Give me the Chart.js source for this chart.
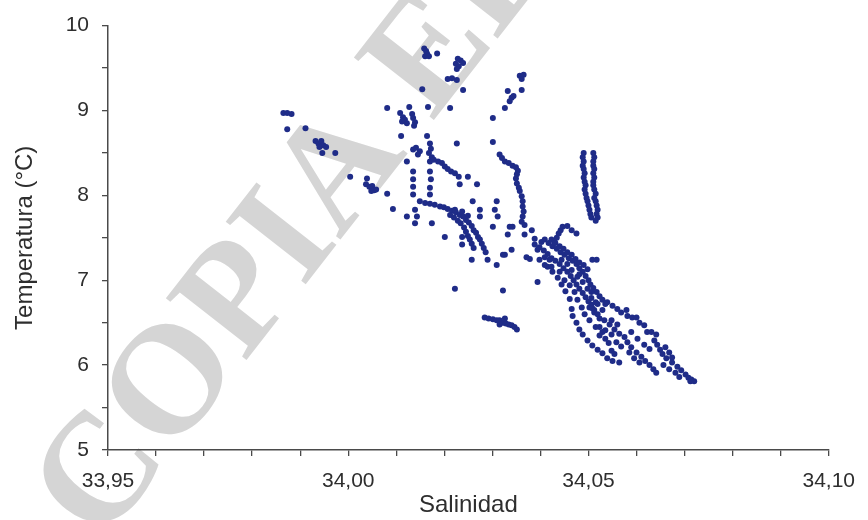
<!DOCTYPE html>
<html>
<head>
<meta charset="utf-8">
<script src="https://cdn.jsdelivr.net/npm/chart.js@4.4.1/dist/chart.umd.min.js"></script>
<style>
  html, body { margin: 0; padding: 0; background: #ffffff; }
  #wrap { width: 868px; height: 520px; }
</style>
</head>
<body>
<div id="wrap"><canvas id="ts" width="868" height="520"></canvas></div>
<script>
// Diagrama T-S: salinidad vs temperatura, puntos [salinidad, temperatura]
const xTitle = "Salinidad";
const yTitle = "Temperatura (°C)";
const watermark = "COPIA ELECTRÓNICA";

const grupoNoroeste = [
  [33.9865, 8.97], [33.9873, 8.97], [33.9882, 8.96], [33.9873, 8.78], [33.9911, 8.79],
  [33.9932, 8.64], [33.9938, 8.61], [33.9944, 8.64], [33.9948, 8.59], [33.9954, 8.57], [33.9940, 8.57],
  [33.9946, 8.50], [33.9973, 8.50], [34.0004, 8.22], [34.0039, 8.20],
  [34.0037, 8.13], [34.0044, 8.10], [34.0050, 8.11], [34.0054, 8.06], [34.0048, 8.05], [34.0058, 8.07],
  [34.0081, 8.02], [34.0093, 7.84]
];

const grupoSuperior = [
  [34.0158, 9.73], [34.0162, 9.70], [34.0164, 9.67], [34.0160, 9.64], [34.0168, 9.64], [34.0185, 9.67],
  [34.0228, 9.61], [34.0234, 9.59], [34.0239, 9.56], [34.0224, 9.55], [34.0230, 9.52], [34.0226, 9.49],
  [34.0207, 9.37], [34.0216, 9.38], [34.0226, 9.36], [34.0154, 9.25], [34.0239, 9.24],
  [34.0081, 9.03], [34.0127, 9.04], [34.0166, 9.04], [34.0212, 9.03],
  [34.0108, 8.97], [34.0114, 8.92], [34.0118, 8.89], [34.0122, 8.85], [34.0112, 8.87],
  [34.0133, 8.96], [34.0135, 8.91], [34.0139, 8.86], [34.0137, 8.82],
  [34.0110, 8.70], [34.0164, 8.70], [34.0226, 8.61],
  [34.0135, 8.54], [34.0141, 8.56], [34.0149, 8.52], [34.0145, 8.48],
  [34.0170, 8.61], [34.0172, 8.55], [34.0168, 8.50], [34.0174, 8.45], [34.0170, 8.40],
  [34.0122, 8.40],
  [34.0178, 8.42], [34.0187, 8.40], [34.0195, 8.38], [34.0201, 8.34], [34.0207, 8.31],
  [34.0214, 8.28], [34.0222, 8.26], [34.0230, 8.22],
  [34.0249, 8.22], [34.0268, 8.13], [34.0232, 8.13],
  [34.0135, 8.28], [34.0135, 8.19], [34.0135, 8.10], [34.0135, 8.01],
  [34.0170, 8.28], [34.0172, 8.19], [34.0170, 8.09], [34.0170, 8.01]
];

const grupoArco = [
  [34.0122, 7.75], [34.0139, 7.83], [34.0143, 7.75], [34.0139, 7.67], [34.0174, 7.67], [34.0201, 7.51],
  [34.0149, 7.93], [34.0160, 7.91], [34.0170, 7.90], [34.0180, 7.89], [34.0191, 7.87], [34.0199, 7.86],
  [34.0207, 7.84], [34.0216, 7.82], [34.0224, 7.80], [34.0232, 7.77], [34.0239, 7.75], [34.0245, 7.71],
  [34.0251, 7.68], [34.0257, 7.64], [34.0261, 7.59], [34.0266, 7.56], [34.0270, 7.51], [34.0274, 7.48],
  [34.0278, 7.43], [34.0282, 7.38], [34.0286, 7.33],
  [34.0212, 7.77], [34.0220, 7.74], [34.0228, 7.70], [34.0234, 7.67], [34.0241, 7.62], [34.0245, 7.57],
  [34.0249, 7.52], [34.0253, 7.48], [34.0257, 7.43], [34.0261, 7.38],
  [34.0222, 7.83], [34.0237, 7.81], [34.0249, 7.76],
  [34.0259, 7.93], [34.0274, 7.83], [34.0274, 7.75], [34.0309, 7.93], [34.0305, 7.83], [34.0311, 7.75],
  [34.0301, 7.63], [34.0332, 7.54], [34.0336, 7.63], [34.0326, 7.30], [34.0340, 7.36], [34.0309, 7.18],
  [34.0290, 7.24], [34.0257, 7.24], [34.0237, 7.51], [34.0237, 7.42]
];

const grupoCurva = [
  [34.0301, 8.91], [34.0301, 8.63], [34.0326, 9.03], [34.0332, 9.23], [34.0340, 9.15], [34.0336, 9.11],
  [34.0344, 9.17], [34.0357, 9.41], [34.0365, 9.42], [34.0361, 9.37], [34.0361, 9.24],
  [34.0315, 8.48], [34.0320, 8.44], [34.0326, 8.40], [34.0334, 8.38], [34.0342, 8.35], [34.0349, 8.33],
  [34.0353, 8.29], [34.0351, 8.25], [34.0349, 8.20], [34.0351, 8.14], [34.0355, 8.09], [34.0357, 8.05],
  [34.0361, 7.99], [34.0363, 7.93], [34.0363, 7.87], [34.0365, 7.81], [34.0363, 7.75], [34.0361, 7.69]
];

const grupoColumna = [
  [34.0490, 8.50], [34.0488, 8.45], [34.0490, 8.40], [34.0488, 8.35], [34.0490, 8.31], [34.0492, 8.26],
  [34.0490, 8.21], [34.0492, 8.16], [34.0494, 8.12], [34.0492, 8.07], [34.0494, 8.02], [34.0496, 7.97],
  [34.0498, 7.93], [34.0500, 7.88], [34.0502, 7.83], [34.0504, 7.78], [34.0506, 7.74],
  [34.0510, 8.50], [34.0512, 8.45], [34.0510, 8.40], [34.0510, 8.35], [34.0512, 8.31], [34.0510, 8.26],
  [34.0512, 8.21], [34.0510, 8.16], [34.0510, 8.12], [34.0512, 8.07], [34.0515, 8.02], [34.0512, 7.97],
  [34.0515, 7.93], [34.0517, 7.88], [34.0519, 7.83], [34.0517, 7.78], [34.0519, 7.74], [34.0515, 7.70]
];

const grupoCentral = [
  [34.0342, 7.63], [34.0367, 7.65], [34.0367, 7.54], [34.0382, 7.59], [34.0388, 7.49], [34.0402, 7.45],
  [34.0394, 7.36], [34.0378, 7.25], [34.0398, 7.24], [34.0409, 7.18], [34.0322, 6.88], [34.0371, 7.27],
  [34.0394, 6.98], [34.0222, 6.90], [34.0322, 7.30], [34.0388, 7.42],
  [34.0429, 7.45], [34.0434, 7.50], [34.0438, 7.55], [34.0442, 7.59], [34.0446, 7.63], [34.0456, 7.64],
  [34.0465, 7.59], [34.0475, 7.55], [34.0508, 7.24], [34.0517, 7.24]
];

const grupoTramo = [
  [34.0284, 6.56], [34.0292, 6.55], [34.0301, 6.54], [34.0309, 6.53], [34.0315, 6.53], [34.0322, 6.50],
  [34.0328, 6.49], [34.0334, 6.48], [34.0340, 6.47], [34.0346, 6.45], [34.0351, 6.42], [34.0326, 6.55],
  [34.0315, 6.48]
];

const grupoBanda = [
  [34.0409, 7.48], [34.0417, 7.44], [34.0425, 7.40], [34.0434, 7.37], [34.0442, 7.33], [34.0450, 7.30],
  [34.0459, 7.26], [34.0467, 7.23], [34.0475, 7.19], [34.0481, 7.14], [34.0488, 7.10], [34.0494, 7.05],
  [34.0500, 7.00], [34.0504, 6.95], [34.0510, 6.91], [34.0517, 6.86], [34.0523, 6.81], [34.0529, 6.77],
  [34.0535, 6.72],
  [34.0398, 7.39], [34.0407, 7.35], [34.0415, 7.31], [34.0423, 7.26], [34.0431, 7.23], [34.0440, 7.19],
  [34.0448, 7.14], [34.0456, 7.10], [34.0463, 7.05], [34.0469, 7.00], [34.0475, 6.95], [34.0481, 6.90],
  [34.0488, 6.85], [34.0494, 6.80], [34.0500, 6.75], [34.0506, 6.71], [34.0512, 6.65],
  [34.0423, 7.48], [34.0431, 7.44], [34.0440, 7.40], [34.0448, 7.37], [34.0456, 7.33], [34.0465, 7.30],
  [34.0473, 7.25], [34.0481, 7.21], [34.0490, 7.18], [34.0498, 7.13]
];

const grupoCola = [
  [34.0415, 7.16], [34.0425, 7.10], [34.0436, 7.03], [34.0444, 6.95], [34.0452, 6.87], [34.0461, 6.78],
  [34.0465, 6.66], [34.0467, 6.58], [34.0475, 6.50], [34.0481, 6.42], [34.0488, 6.36], [34.0498, 6.29],
  [34.0508, 6.23], [34.0519, 6.18], [34.0529, 6.14], [34.0539, 6.08], [34.0550, 6.05], [34.0564, 6.03],
  [34.0502, 6.68], [34.0512, 6.62], [34.0523, 6.55], [34.0533, 6.53], [34.0544, 6.48], [34.0554, 6.42],
  [34.0564, 6.37], [34.0575, 6.33], [34.0581, 6.27], [34.0589, 6.21], [34.0600, 6.15], [34.0610, 6.10],
  [34.0618, 6.05], [34.0627, 6.00], [34.0635, 5.95], [34.0641, 5.91],
  [34.0506, 6.79], [34.0515, 6.74], [34.0508, 6.67], [34.0519, 6.60], [34.0523, 6.45], [34.0529, 6.39],
  [34.0535, 6.31], [34.0542, 6.26], [34.0548, 6.17], [34.0554, 6.13]
];

const grupoRelleno = [
  [34.0423, 7.16], [34.0440, 7.10], [34.0450, 7.00], [34.0461, 6.94], [34.0471, 6.86], [34.0477, 6.77],
  [34.0486, 6.68], [34.0492, 6.60], [34.0502, 6.53], [34.0515, 6.45], [34.0523, 6.35], [34.0535, 6.41],
  [34.0548, 6.36], [34.0558, 6.27], [34.0568, 6.22], [34.0585, 6.15], [34.0595, 6.08], [34.0606, 6.03],
  [34.0589, 6.39], [34.0602, 6.31], [34.0616, 6.24], [34.0627, 6.19], [34.0548, 6.53], [34.0560, 6.48],
  [34.0529, 6.65], [34.0519, 6.72], [34.0488, 6.98], [34.0498, 6.90], [34.0465, 7.12], [34.0477, 7.04],
  [34.0506, 6.86], [34.0409, 7.27], [34.0419, 7.24], [34.0444, 7.24], [34.0456, 7.19], [34.0481, 7.07],
  [34.0656, 6.00], [34.0668, 5.95], [34.0681, 5.91], [34.0689, 5.86], [34.0660, 6.21], [34.0668, 6.15]
];

const grupoSureste = [
  [34.0539, 6.74], [34.0550, 6.70], [34.0560, 6.66], [34.0568, 6.62], [34.0579, 6.65], [34.0581, 6.58],
  [34.0591, 6.56], [34.0600, 6.56], [34.0606, 6.50], [34.0616, 6.47], [34.0622, 6.39], [34.0631, 6.39],
  [34.0641, 6.36], [34.0637, 6.29], [34.0643, 6.24], [34.0649, 6.18], [34.0654, 6.13], [34.0662, 6.08],
  [34.0674, 6.09], [34.0674, 6.03], [34.0685, 5.98], [34.0693, 5.94], [34.0702, 5.89], [34.0708, 5.85],
  [34.0714, 5.83], [34.0720, 5.81], [34.0712, 5.81]
];

const grupos = [grupoNoroeste, grupoSuperior, grupoArco, grupoCurva, grupoColumna,
  grupoCentral, grupoTramo, grupoBanda, grupoCola, grupoRelleno, grupoSureste];

const puntos = grupos.flat().map(([s, t]) => ({ x: s, y: t }));

const fondo = {
  id: "fondo",
  beforeDraw(chart) {
    const ctx = chart.ctx;
    ctx.save();
    ctx.fillStyle = "#ffffff";
    ctx.fillRect(0, 0, chart.width, chart.height);
    // marca de agua diagonal, por debajo de ejes y puntos
    ctx.translate(101, 546);
    ctx.rotate(-52 * Math.PI / 180);
    ctx.font = 'bold 155px "Liberation Serif", serif';
    ctx.fillStyle = "#d5d5d5";
    ctx.textBaseline = "alphabetic";
    ctx.fillText(watermark, 0, 0);
    ctx.restore();
  }
};

const tickFont = { family: '"Liberation Sans", Arial, sans-serif', size: 21 };
const titleFont = { family: '"Liberation Sans", Arial, sans-serif', size: 24 };
const axisColor = "#4a4a4a";

new Chart(document.getElementById("ts"), {
  type: "scatter",
  data: {
    datasets: [{
      data: puntos,
      backgroundColor: "#1f2c88",
      borderWidth: 0,
      pointRadius: 3,
      pointHoverRadius: 3
    }]
  },
  options: {
    responsive: false,
    animation: false,
    events: [],
    layout: { padding: { left: 0, right: 36, top: 25, bottom: 0 } },
    plugins: { legend: { display: false }, tooltip: { enabled: false } },
    scales: {
      x: {
        type: "linear",
        min: 33.95,
        max: 34.10,
        afterFit: (scale) => { scale.height = 70; },
        border: { display: true, color: axisColor, width: 1.5 },
        grid: { drawOnChartArea: false, drawTicks: true, tickLength: 6, color: axisColor, lineWidth: 1.3 },
        ticks: {
          stepSize: 0.01,
          autoSkip: false,
          maxRotation: 0,
          padding: 13,
          color: "#2e2e2e",
          font: tickFont,
          callback: (v) => (Math.round(v * 100) % 5 === 0 ? v.toFixed(2).replace(".", ",") : "")
        },
        title: { display: true, text: xTitle, color: "#2e2e2e", font: titleFont, padding: { top: 0, bottom: 0 } }
      },
      y: {
        type: "linear",
        min: 5,
        max: 10,
        afterFit: (scale) => { scale.width = 108; },
        border: { display: true, color: axisColor, width: 1.5 },
        grid: { drawOnChartArea: false, drawTicks: true, tickLength: 6, color: axisColor, lineWidth: 1.3 },
        ticks: {
          stepSize: 0.5,
          padding: 13,
          color: "#2e2e2e",
          font: tickFont,
          callback: (v) => (Number.isInteger(v) ? String(v) : "")
        },
        title: { display: true, text: yTitle, color: "#2e2e2e", font: titleFont, padding: { top: 11, bottom: 0 } }
      }
    }
  },
  plugins: [fondo]
});
</script>
</body>
</html>
